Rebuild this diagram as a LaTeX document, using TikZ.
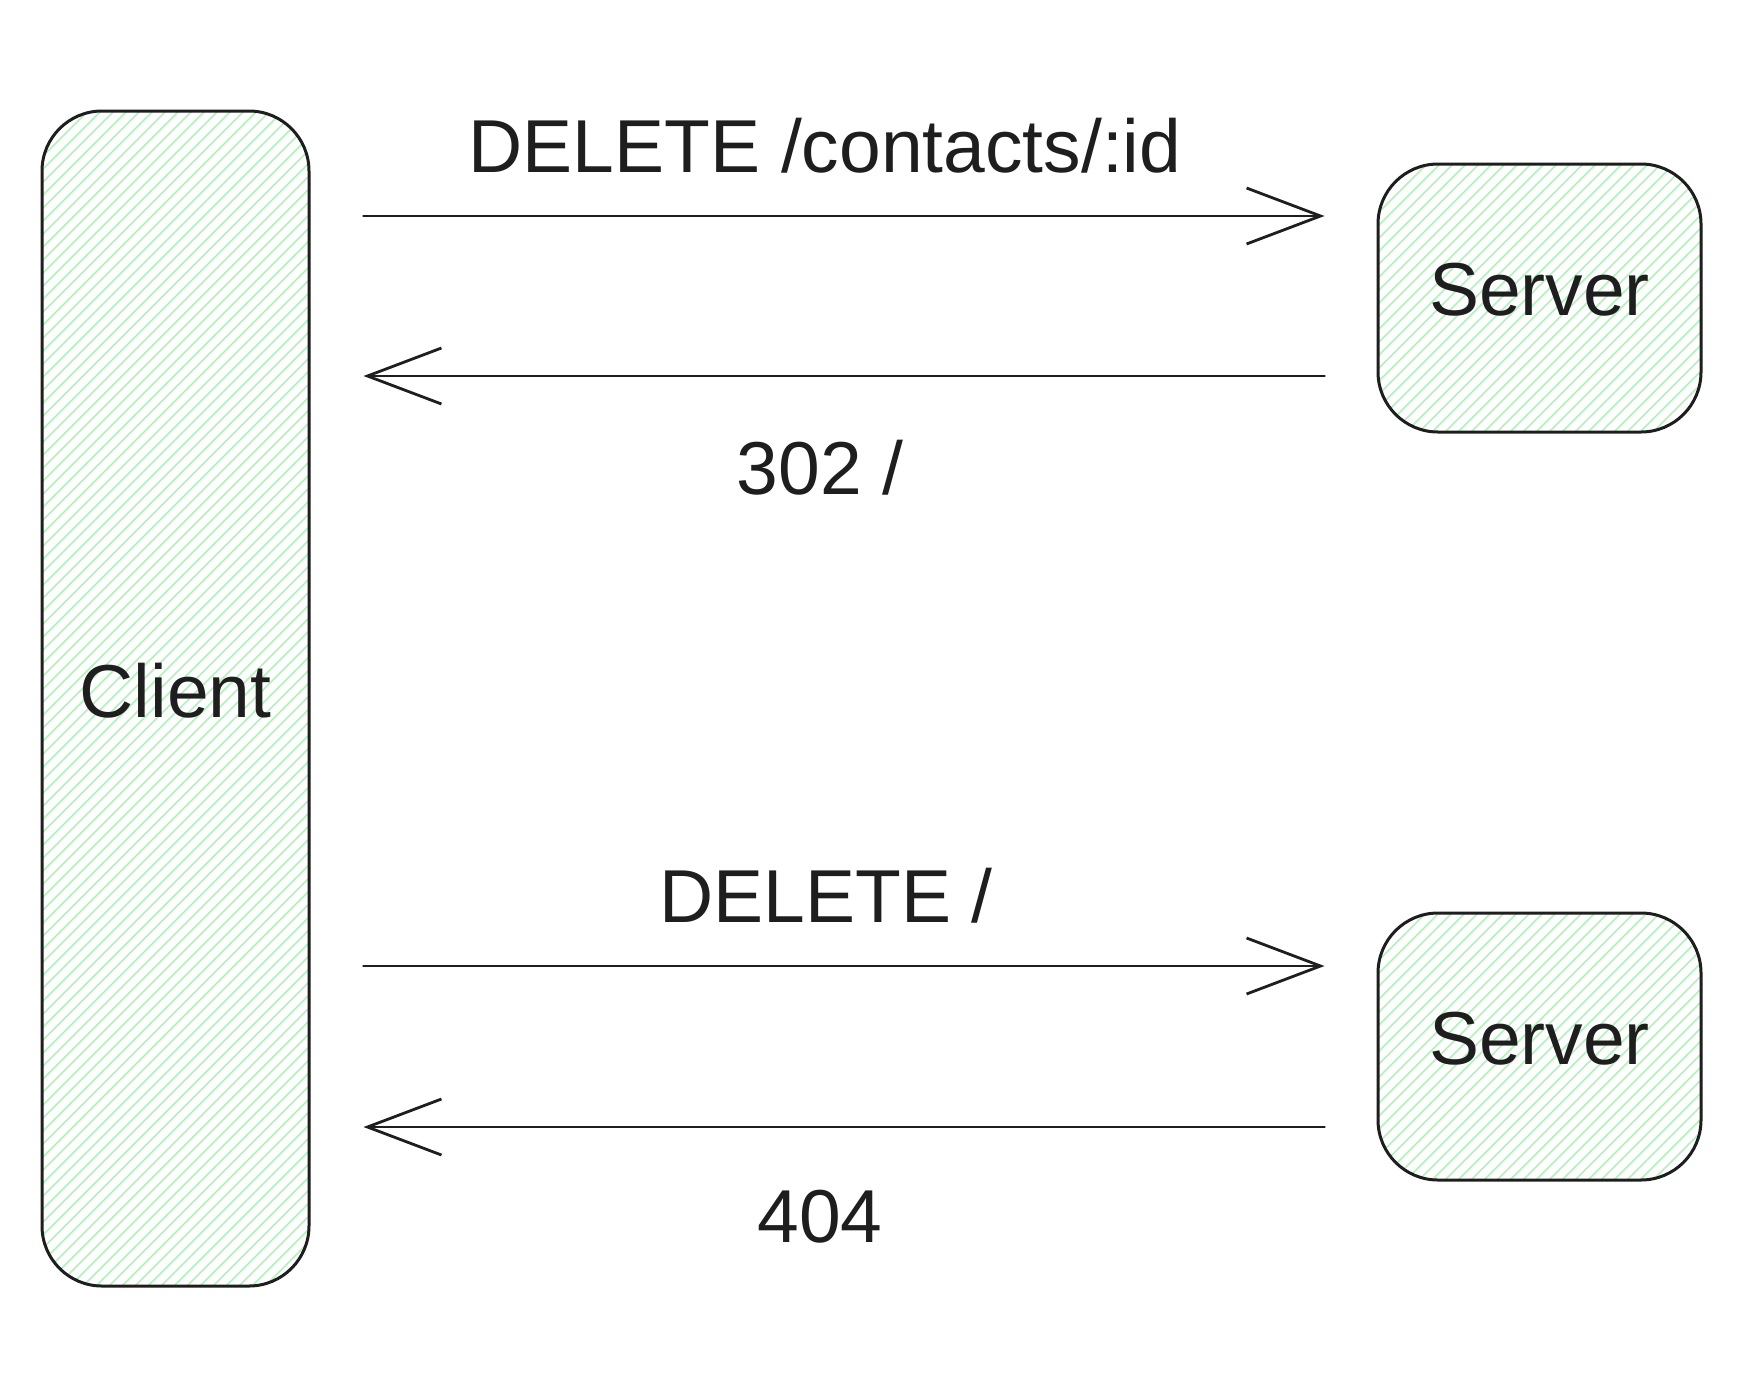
\documentclass[tikz,border=0pt]{standalone}
\usepackage{fontspec}
\setmainfont{Liberation Sans}
\usetikzlibrary{arrows.meta}
\definecolor{ink}{HTML}{1E1E1E}
\definecolor{hatchgreen}{HTML}{B2F2BB}
\tikzset{
  hatchbox/.style={draw=ink, line width=3pt, rounded corners=60pt, inner sep=0pt,
    text=ink, font=\fontsize{75}{90}\selectfont, text depth=17pt,
    path picture={
      \foreach \i in {0,13,...,1650}
        \draw[hatchgreen, line width=1.5pt]
          ([xshift=\i pt-1350pt]path picture bounding box.south west) -- ++(1500pt,1500pt);
    }},
  msg/.style={draw=ink, line width=2.8pt, line cap=round,
    -{Straight Barb[length=74pt,width=56pt,line width=2.8pt]}},
  lbl/.style={text=ink, font=\fontsize{75}{90}\selectfont, inner sep=0pt, anchor=base}
}
\begin{document}
\begin{tikzpicture}[x=1pt,y=-1pt]
\useasboundingbox[fill=white] (0,0) rectangle (1758,1376);

\node[hatchbox, minimum width=267pt, minimum height=1175pt] (client) at (175.5,698.5) {Client};
\node[hatchbox, minimum width=323pt, minimum height=268pt] (server1) at (1539.5,298) {Server};
\node[hatchbox, minimum width=323pt, minimum height=267pt] (server2) at (1539.5,1046.5) {Server};

\draw[msg, shorten <=53pt, shorten >=52pt] (client.east |- 0,216) -- (server1.west |- 0,216);
\draw[msg, shorten <=52pt, shorten >=53pt] (server1.west |- 0,376) -- (client.east |- 0,376);
\draw[msg, shorten <=53pt, shorten >=52pt] (client.east |- 0,966) -- (server2.west |- 0,966);
\draw[msg, shorten <=52pt, shorten >=53pt] (server2.west |- 0,1127) -- (client.east |- 0,1127);

\node[lbl] (l1) at (825,172) {DELETE /contacts/:id};
\node[lbl] (l2) at (820,494) {302 /};
\node[lbl] (l3) at (826,922) {DELETE /};
\node[lbl] (l4) at (820,1242) {404};
\end{tikzpicture}
\end{document}
